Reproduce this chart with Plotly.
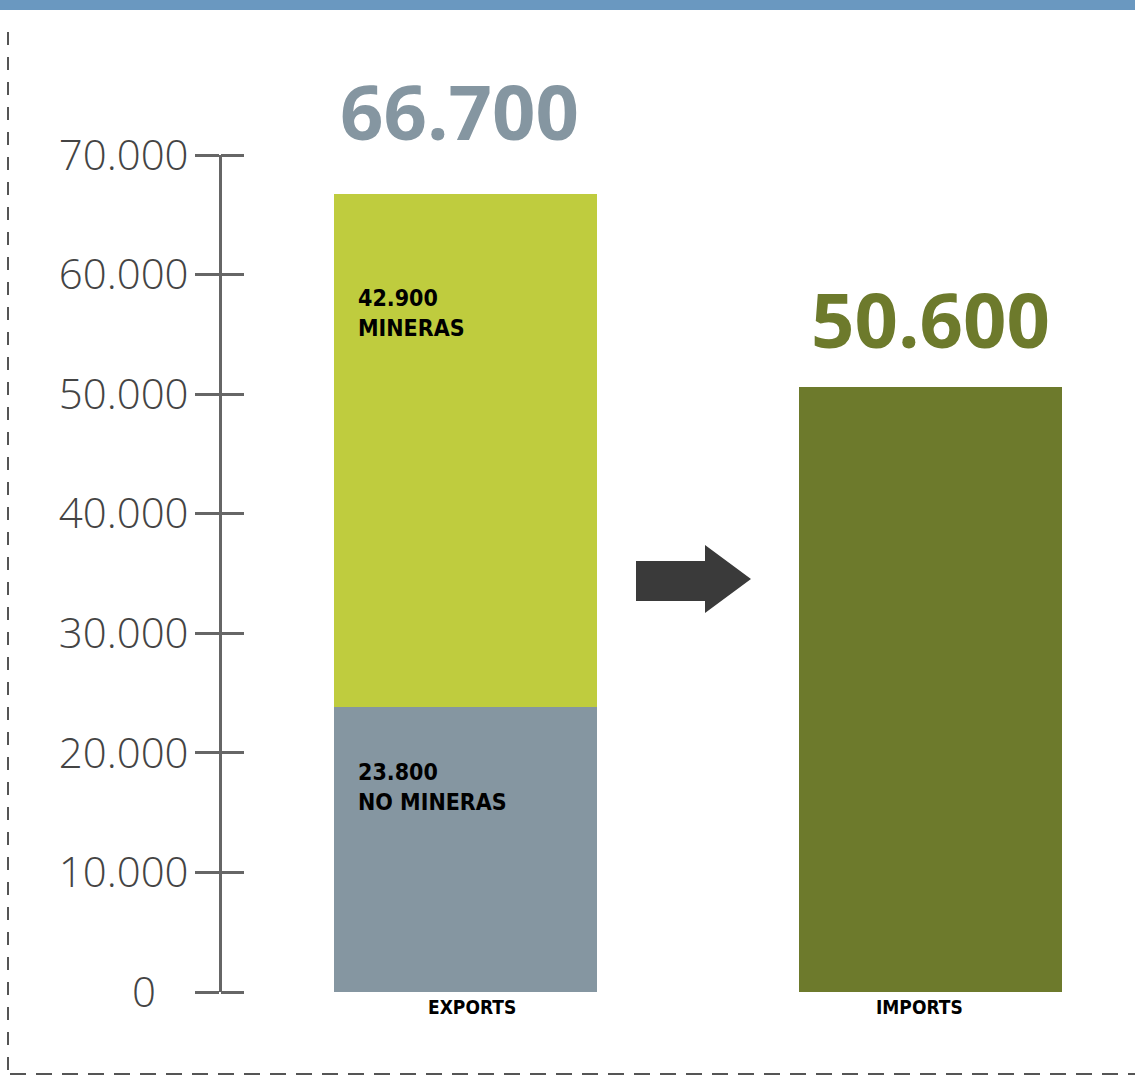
import plotly.graph_objects as go

categories = ["EXPORTS", "IMPORTS"]
no_mineras = [23800, 0]
mineras = [42900, 0]
imports_vals = [0, 50600]
totals = [66700, 50600]
total_labels = ["66.700", "50.600"]
tick_vals = [0, 10000, 20000, 30000, 40000, 50000, 60000, 70000]
tick_text = ["0\u00a0\u00a0\u00a0", "10.000", "20.000", "30.000", "40.000", "50.000", "60.000", "70.000"]

W, H = 1135, 1076
C_MIN = "#bfcc3e"
C_NOMIN = "#8596a1"
C_IMP = "#6d7a2c"
AX = "#666666"

def px_x(p):
    return p / W

def px_y(p):
    return (H - p) / H

y_bottom_px, y_top_px = 992, 155
ydom = [px_y(y_bottom_px), px_y(y_top_px)]
yrange = [0, 70000]

fig = go.Figure()
fig.add_trace(go.Bar(x=categories, y=no_mineras, marker_color=C_NOMIN, width=0.566,
                     hoverinfo="skip", name="NO MINERAS", marker_line_width=0))
fig.add_trace(go.Bar(x=categories, y=mineras, marker_color=C_MIN, width=0.566,
                     hoverinfo="skip", name="MINERAS", marker_line_width=0))
fig.add_trace(go.Bar(x=categories, y=imports_vals, marker_color=C_IMP, width=0.566,
                     hoverinfo="skip", name="IMPORTS", marker_line_width=0))
fig.add_trace(go.Scatter(x=[], y=[], yaxis="y2", showlegend=False))

x0c, unit = 465.5, 465.0
xrange = [(0 - x0c) / unit, (W - x0c) / unit]

fig.update_layout(
    width=W, height=H, margin=dict(l=0, r=0, t=0, b=0, pad=0), autosize=False,
    paper_bgcolor="white", plot_bgcolor="white",
    barmode="stack", showlegend=False, bargap=0,
    xaxis=dict(domain=[0, 1], range=xrange, type="category", showgrid=False,
               zeroline=False, showline=False, ticks="", automargin=False,
               showticklabels=False),
    yaxis=dict(domain=ydom, range=yrange, anchor="free", position=220 / W,
               showgrid=False, zeroline=False, showline=True, linecolor=AX,
               linewidth=3, ticks="outside", ticklen=24, tickwidth=3, tickcolor=AX,
               tickvals=tick_vals, ticktext=tick_text, automargin=False,
               tickfont=dict(family="Open Sans", size=42, color="#444444", weight=300),
               ticklabelstandoff=-2),
    yaxis2=dict(domain=ydom, range=yrange, anchor="free", position=220 / W,
                overlaying="y", side="right", showgrid=False, zeroline=False,
                showline=False, ticks="outside", ticklen=23, tickwidth=3,
                automargin=False,
                tickcolor=AX, tickvals=tick_vals, showticklabels=False),
)

cat_font = dict(family="DejaVu Sans Condensed, DejaVu Sans", size=19,
                color="black", weight="bold")
cat_xshift = [6, -11]
for c, xs in zip(categories, cat_xshift):
    fig.add_annotation(x=c, y=0, text=c, showarrow=False, yanchor="middle",
                       yshift=-15, xshift=xs, font=cat_font)

label_colors = [C_NOMIN, C_IMP]
label_shift = [84, 68]
label_xshift = [-6, 0]
for c, t, lab, col, ys, xs in zip(categories, totals, total_labels, label_colors,
                                  label_shift, label_xshift):
    fig.add_annotation(x=c, y=t, text=lab, showarrow=False, yanchor="middle",
                       yshift=ys, xshift=xs,
                       font=dict(family="Open Sans", size=76, color=col, weight="bold"))

inner_font = dict(family="DejaVu Sans Condensed, DejaVu Sans", size=23,
                  color="black", weight="bold")
fig.add_annotation(x=categories[0], y=no_mineras[0] + mineras[0],
                   text="42.900<br>MINERAS", showarrow=False, align="left",
                   xanchor="left", yanchor="top", xshift=-110, yshift=-89,
                   font=inner_font)
fig.add_annotation(x=categories[0], y=no_mineras[0],
                   text="23.800<br>NO MINERAS", showarrow=False, align="left",
                   xanchor="left", yanchor="top", xshift=-110, yshift=-50,
                   font=inner_font)

fig.add_shape(type="rect", xref="paper", yref="paper", x0=0, x1=1,
              y0=px_y(10), y1=1, fillcolor="#6a98c0", line_width=0, layer="above")
fig.add_shape(type="line", xref="paper", yref="paper", x0=px_x(8), x1=px_x(8),
              y0=px_y(32), y1=px_y(1076), line=dict(color="#555555", width=2, dash="13px,12px"))
fig.add_shape(type="line", xref="paper", yref="paper", x0=px_x(10), x1=1,
              y0=px_y(1074), y1=px_y(1074), line=dict(color="#555555", width=2, dash="16px,10px"))

arrow_pts = [(636, 561), (705, 561), (705, 545), (751, 579), (705, 613), (705, 601), (636, 601)]
path = "M " + " L ".join(f"{px_x(a):.5f},{px_y(b):.5f}" for a, b in arrow_pts) + " Z"
fig.add_shape(type="path", xref="paper", yref="paper", path=path,
              fillcolor="#3a3a3a", line_width=0)

fig.write_html("out.html", config={"displayModeBar": False},
               post_script="document.body.style.margin='0';document.body.style.overflow='hidden';")
